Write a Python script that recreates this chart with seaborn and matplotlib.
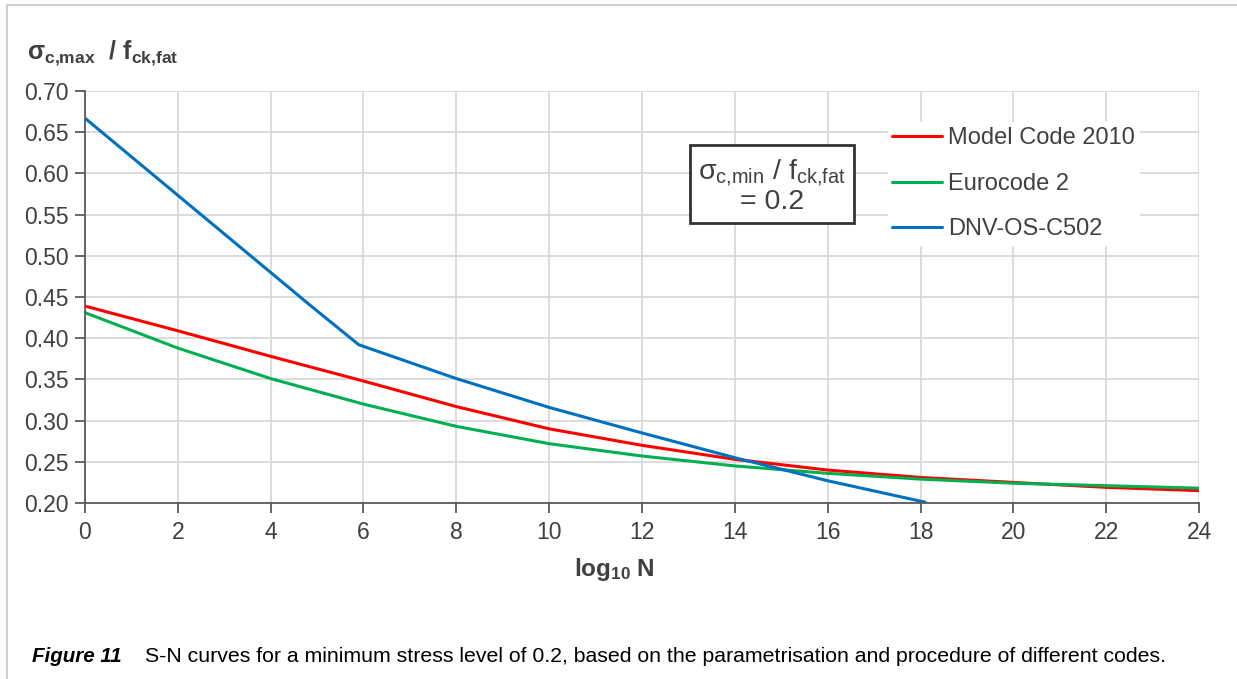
import numpy as np
import pandas as pd
import matplotlib
matplotlib.use("Agg")
import matplotlib.pyplot as plt
from matplotlib.lines import Line2D
import seaborn as sns

# S-N curves, sigma_min / f_ck,fat = 0.2
mc2010_logn = [0, 2, 4, 6, 8, 10, 12, 14, 16, 18, 20, 22, 24]
mc2010_s = [0.439, 0.409, 0.378, 0.348, 0.317, 0.290, 0.270, 0.253, 0.240, 0.231, 0.225, 0.219, 0.215]

ec2_logn = [0, 2, 4, 6, 8, 10, 12, 14, 16, 18, 20, 22, 24]
ec2_s = [0.431, 0.388, 0.351, 0.320, 0.293, 0.272, 0.257, 0.245, 0.236, 0.229, 0.224, 0.221, 0.218]

dnv_logn = [0, 4.85, 5.9, 8, 10, 12, 14, 16, 18.1]
dnv_s = [0.667, 0.440, 0.392, 0.351, 0.316, 0.285, 0.255, 0.227, 0.201]

series_names = ["Model Code 2010", "Eurocode 2", "DNV-OS-C502"]
colors = ["#ff0000", "#00b050", "#0070c0"]

x_ticks = list(range(0, 25, 2))
y_ticks = [0.20, 0.25, 0.30, 0.35, 0.40, 0.45, 0.50, 0.55, 0.60, 0.65, 0.70]

df = pd.concat([
    pd.DataFrame({"logN": mc2010_logn, "s": mc2010_s, "code": series_names[0]}),
    pd.DataFrame({"logN": ec2_logn, "s": ec2_s, "code": series_names[1]}),
    pd.DataFrame({"logN": dnv_logn, "s": dnv_s, "code": series_names[2]}),
])

sns.set_theme(style="whitegrid")
plt.rcParams["font.family"] = ["Liberation Sans", "DejaVu Sans"]
plt.rcParams["mathtext.fontset"] = "custom"
plt.rcParams["mathtext.rm"] = "Liberation Sans"
plt.rcParams["mathtext.it"] = "Liberation Sans:italic"
plt.rcParams["mathtext.bf"] = "Liberation Sans:bold"

fig = plt.figure(figsize=(12.37, 6.79), dpi=100)
ax = fig.add_axes([0.0687, 0.2592, 0.9006, 0.6068])

sns.lineplot(data=df, x="logN", y="s", hue="code", palette=colors,
             hue_order=series_names, sort=False, estimator=None,
             linewidth=2.2, ax=ax, legend=False)

ax.set_xlim(0, 24)
ax.set_ylim(0.20, 0.70)
ax.set_xticks(x_ticks)
ax.set_yticks(y_ticks)
ax.set_yticklabels([f"{v:.2f}" for v in y_ticks])
ax.grid(True, color="#d9d9d9", linewidth=1.3)
ax.set_facecolor("white")
for side in ["top", "right"]:
    ax.spines[side].set_visible(False)
for side in ["left", "bottom"]:
    ax.spines[side].set_color("#595959")
    ax.spines[side].set_linewidth(1.3)
ax.tick_params(axis="both", which="both", direction="out", length=7, width=1.3,
               color="#595959", labelsize=16.5, labelcolor="#404040", pad=5,
               bottom=True, left=True)
ax.tick_params(axis="x", pad=6)
ax.set_xlabel(r"log$_{\mathbf{10}}$ N", fontsize=17.5, fontweight="bold",
              color="#404040")
ax.xaxis.set_label_coords(0.475, -0.128)
ax.set_ylabel("")

fig.text(0.022, 0.921, r"σ$_{\mathbf{c{,}max}}$  / f$_{\mathbf{ck{,}fat}}$",
         fontsize=18, fontweight="bold", color="#404040", ha="left", va="center")

# min stress box
ax.text(14.8, 0.585, "σ$_{\\mathrm{c{,}min}}$ / f$_{\\mathrm{ck{,}fat}}$\n= 0.2",
        fontsize=20.5, color="#404040", ha="center", va="center", linespacing=1.05,
        bbox=dict(boxstyle="square,pad=0.3", facecolor="white",
                  edgecolor="#333333", linewidth=2))

handles = [Line2D([0], [0], color=c, linewidth=2.2) for c in colors]
leg = fig.legend(handles, series_names, loc="upper left",
                 bbox_to_anchor=(0.708, 0.837), fontsize=17, frameon=True,
                 handlelength=2.1, handletextpad=0.25, labelspacing=1.0,
                 borderpad=0.2, fancybox=False)
leg.get_frame().set_edgecolor("white")
leg.get_frame().set_facecolor("white")
leg.get_frame().set_alpha(1)
for t in leg.get_texts():
    t.set_color("#404040")

# caption
fig.text(0.026, 0.025, "Figure 11", fontsize=14.8, fontweight="bold",
         fontstyle="italic", color="black", ha="left", va="baseline")
fig.text(0.117, 0.025, "S-N curves for a minimum stress level of 0.2, based on the "
         "parametrisation and procedure of different codes.",
         fontsize=15.3, color="black", ha="left", va="baseline")

# outer light frame (top and left)
fig.add_artist(Line2D([0.0057, 1.0], [0.9926, 0.9926], transform=fig.transFigure,
                      color="#d0d0d0", linewidth=1.5))
fig.add_artist(Line2D([0.0057, 0.0057], [0.0, 0.9926], transform=fig.transFigure,
                      color="#d0d0d0", linewidth=1.5))

fig.savefig("out.png", dpi=100, facecolor="white")
